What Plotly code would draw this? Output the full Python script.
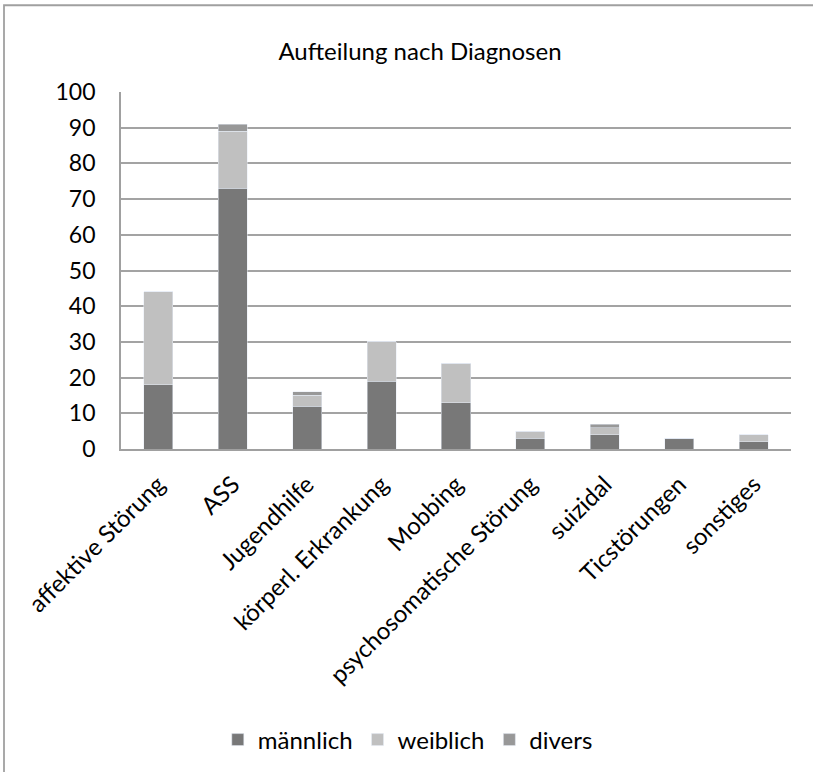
import plotly.graph_objects as go

categories = ["affektive Störung", "ASS", "Jugendhilfe", "körperl. Erkrankung", "Mobbing",
              "psychosomatische Störung", "suizidal", "Ticstörungen", "sonstiges"]
maennlich = [18, 73, 12, 19, 13, 3, 4, 3, 2]
weiblich = [26, 16, 3, 11, 11, 2, 2, 0, 2]
divers = [0, 2, 1, 0, 0, 0, 1, 0, 0]
y_ticks = [0, 10, 20, 30, 40, 50, 60, 70, 80, 90, 100]

FONT = "Lato, 'Open Sans', sans-serif"

fig = go.Figure()
fig.add_trace(go.Bar(name="männlich", x=categories, y=maennlich, marker_color="#787878"))
fig.add_trace(go.Bar(name="weiblich", x=categories, y=weiblich, marker_color="#c0c0c0"))
fig.add_trace(go.Bar(name="divers", x=categories, y=divers, marker_color="#989898"))

L, R, T, B = 121, 22, 92, 322
W, H = 813, 772
pw = W - L - R
ph = H - T - B

def px_x(x):
    return (x - L) / pw

def px_y(y):
    return (H - B - y) / ph

fig.update_layout(
    barmode="stack",
    bargap=0.61,
    width=W, height=H,
    margin=dict(l=L, r=R, t=T, b=B),
    paper_bgcolor="white",
    plot_bgcolor="white",
    font=dict(family=FONT, size=24, color="#000000"),
    title=dict(text="Aufteilung nach Diagnosen", x=420 / W, xanchor="center",
               y=1 - 52 / H, yanchor="middle", font=dict(size=24)),
    legend=dict(orientation="h", x=348 / W, xanchor="center", y=px_y(740), yanchor="middle",
                font=dict(size=24), traceorder="normal", itemwidth=30),
    xaxis=dict(tickangle=-45, showgrid=False, showline=True, linecolor="#a0a0a0", linewidth=1.8,
               tickfont=dict(size=24), ticklabelstandoff=10),
    yaxis=dict(range=[0, 100], tickvals=y_ticks, showgrid=True, gridcolor="#a3a3a3", gridwidth=1.8,
               showline=True, linecolor="#a0a0a0", linewidth=1.8, ticklabelstandoff=19,
               tickfont=dict(size=23), zeroline=False),
    shapes=[dict(type="rect", xref="paper", yref="paper",
                 x0=px_x(4), x1=px_x(840), y0=px_y(5), y1=px_y(800),
                 line=dict(color="#a0a0a0", width=1.8), fillcolor="rgba(0,0,0,0)", layer="below")],
)

fig.write_html("out.html", config={"displayModeBar": False},
               post_script="document.body.style.margin='0';document.body.style.overflow='hidden';")
